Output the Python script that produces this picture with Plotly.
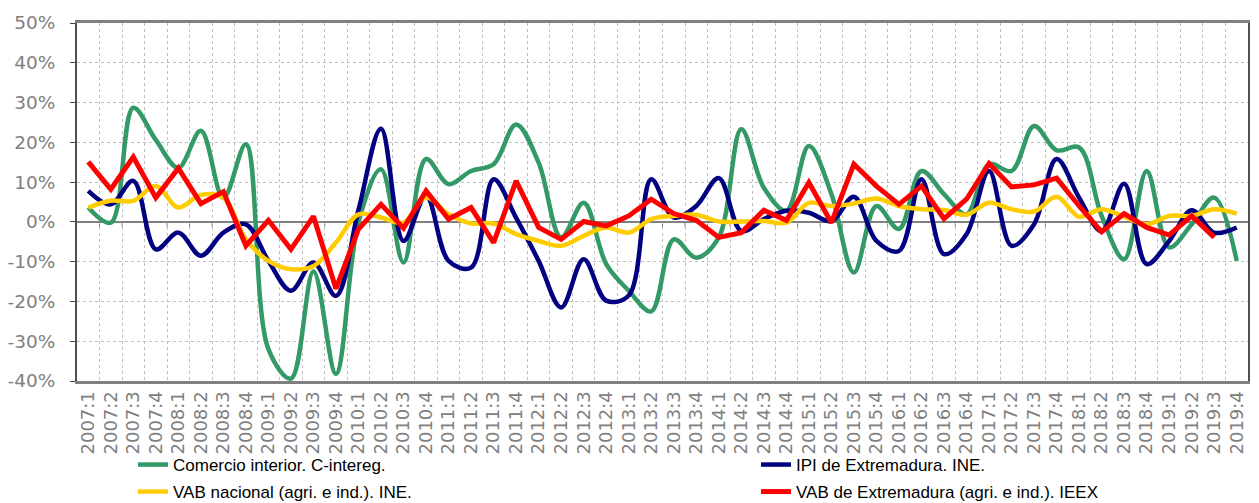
import plotly.graph_objects as go

# Quarterly labels 2007:1 .. 2019:4
quarters = [f"{y}:{q}" for y in range(2007, 2020) for q in range(1, 5)]

# Year-on-year rates (%)
comercio = [3.6, -0.2, 28.7, 20.6, 13.6, 22.9, 6.0, 19.5, -32.0, -39.4, -12.5, -38.2,
            0.0, 13.2, -10.2, 15.8, 9.5, 12.8, 14.5, 24.5, 14.9, -3.9, 4.8, -10.6,
            -17.3, -22.5, -4.4, -9.0, -3.9, 23.3, 8.6, 2.8, 19.1, 7.0, -12.7, 4.0,
            -1.8, 12.8, 7.0, 1.9, 14.5, 12.8, 24.1, 18.0, 18.7, 1.5, -9.4, 12.8,
            -6.4, -0.6, 6.1, -9.8]
ipi = [7.8, 4.4, 10.3, -6.9, -2.7, -8.5, -2.7, -0.6, -9.8, -17.3, -10.2, -18.6,
       3.0, 23.4, -4.8, 6.5, -9.8, -11.5, 10.7, 1.0, -9.8, -21.5, -9.4, -19.8,
       -18.5, 10.7, 1.1, 4.0, 11.0, -2.3, 0.7, 2.8, 2.3, 0.2, 6.3, -4.8,
       -7.3, 10.7, -8.1, -3.1, 12.8, -6.0, -0.6, 15.8, 6.1, -2.3, 9.6, -10.6,
       -4.8, 2.9, -2.7, -1.4]
vab_nacional = [3.6, 5.3, 5.3, 9.0, 3.6, 6.8, 6.1, -4.4, -9.8, -11.9, -11.1, -5.2,
                1.9, 1.1, -0.2, 6.1, 1.9, -0.4, -0.4, -3.1, -4.8, -6.0, -3.5, -1.4,
                -2.7, 0.7, 1.5, 1.8, 0.1, 0.1, 0.2, -0.2, 4.8, 4.0, 4.6, 5.9,
                4.0, 3.2, 3.0, 1.8, 4.8, 3.2, 2.6, 6.3, 1.3, 3.2, 1.3, -0.6,
                1.5, 1.5, 3.2, 2.1]
vab_extremadura = [15.1, 8.2, 16.3, 6.1, 13.5, 4.6, 7.6, -6.0, 0.4, -6.9, 1.4, -16.8,
                   -1.8, 4.4, -1.6, 7.8, 0.7, 3.6, -5.2, 10.3, -1.4, -4.4, 0.1, -1.0,
                   1.5, 5.7, 2.1, 0.4, -3.9, -2.7, 2.9, 0.4, 9.9, -0.2, 14.5, 9.0,
                   4.4, 9.0, 0.8, 5.7, 14.7, 8.8, 9.3, 11.0, 4.0, -2.5, 2.1, -1.4,
                   -3.3, 1.5, -3.9]

y_tick_values = [-40, -30, -20, -10, 0, 10, 20, 30, 40, 50]
y_tick_labels = ['-40%', '-30%', '-20%', '-10%', '0%', '10%', '20%', '30%', '40%', '50%']

# Figure geometry (the page adds an 8px body margin around the figure)
W, H = 1259, 503
L, R, T, B = 69, 19, 15, 130
PW, PH = W - L - R, H - T - B


def paper_x(px):
    return (px - L) / PW


def paper_y(py):
    return (H - B - py) / PH


fig = go.Figure()

fig.add_trace(go.Scatter(x=quarters, y=comercio, name='Comercio interior. C-intereg.',
                         mode='lines', line=dict(color='#339966', width=4.5, shape='spline'),
                         legend='legend'))
fig.add_trace(go.Scatter(x=quarters, y=ipi, name='IPI de Extremadura. INE.',
                         mode='lines', line=dict(color='#000080', width=4.5, shape='spline'),
                         legend='legend2'))
fig.add_trace(go.Scatter(x=quarters, y=vab_nacional, name='VAB nacional (agri. e ind.). INE.',
                         mode='lines', line=dict(color='#FFCC00', width=4.5, shape='spline'),
                         legend='legend3'))
fig.add_trace(go.Scatter(x=quarters[:len(vab_extremadura)], y=vab_extremadura,
                         name='VAB de Extremadura (agri. e ind.). IEEX',
                         mode='lines', line=dict(color='#FF0000', width=5),
                         legend='legend4'))

# small tick marks hanging from the 0% line at category boundaries
for i in range(len(quarters) - 1):
    fig.add_shape(type='line', xref='x', yref='y', x0=i + 0.5, x1=i + 0.5,
                  ysizemode='pixel', yanchor=0, y0=0, y1=-5,
                  line=dict(color='#808080', width=1), layer='below')

legend_common = dict(orientation='h', xanchor='left', yanchor='middle',
                     font=dict(family='Liberation Sans', size=17, color='#000000'),
                     bgcolor='rgba(0,0,0,0)')

col1, col2 = paper_x(125), paper_x(748)
row1, row2 = paper_y(457), paper_y(484)

fig.update_layout(
    width=W, height=H,
    margin=dict(l=L, r=R, t=T, b=B, autoexpand=False),
    paper_bgcolor='white', plot_bgcolor='white',
    showlegend=True,
    legend=dict(x=col1, y=row1, **legend_common),
    legend2=dict(x=col2, y=row1, **legend_common),
    legend3=dict(x=col1, y=row2, **legend_common),
    legend4=dict(x=col2, y=row2, **legend_common),
    xaxis=dict(
        type='category', range=[-0.5, len(quarters) - 0.5],
        tickson='boundaries', ticks='', tickangle=-90, automargin=False,
        tickfont=dict(family='DejaVu Sans', size=18, color='#808080'),
        showgrid=True, gridcolor='#c0c0c0', griddash='dot', gridwidth=1,
        showline=True, linecolor='#808080', linewidth=3, mirror=True,
        zeroline=False,
    ),
    yaxis=dict(
        range=[-40, 50], tickvals=y_tick_values, ticktext=y_tick_labels,
        ticks='outside', ticklen=5, tickcolor='#404040', ticklabelstandoff=11,
        automargin=False,
        tickfont=dict(family='DejaVu Sans', size=18.5, color='#808080'),
        showgrid=True, gridcolor='#c0c0c0', griddash='dot', gridwidth=1,
        showline=True, linecolor='#505050', linewidth=2, mirror=True,
        zeroline=True, zerolinecolor='#808080', zerolinewidth=2,
    ),
)

fig.write_html("out.html")
